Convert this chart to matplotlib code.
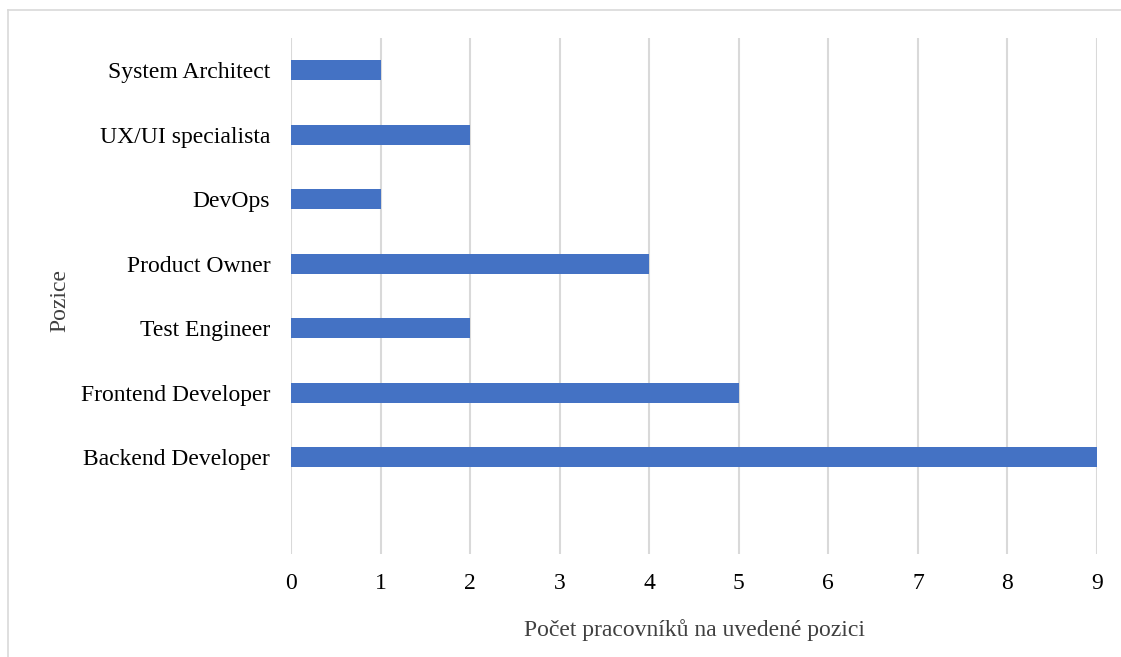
import matplotlib.pyplot as plt
from matplotlib.lines import Line2D

# pozice (odspodu nahoru) a pocty pracovniku
pozice = ["Backend Developer", "Frontend Developer", "Test Engineer",
          "Product Owner", "DevOps", "UX/UI specialista", "System Architect"]
pocty = [9, 5, 2, 4, 1, 2, 1]
x_ticks = list(range(0, 10))

plt.rcParams['font.family'] = ['Liberation Serif', 'DejaVu Serif']

fig = plt.figure(figsize=(11.21, 6.57), dpi=100)
ax = fig.add_axes([291 / 1121, 1 - 554 / 657, (1097 - 291) / 1121, (554 - 38) / 657])

# prvni slot zustava prazdny
y = list(range(1, len(pozice) + 1))
ax.barh(y, pocty, height=0.31, color="#4472C4", zorder=3)

ax.set_ylim(-0.5, len(pozice) + 0.5)
ax.set_xlim(0, 9)
ax.set_yticks(y)
ax.set_yticklabels(pozice, fontsize=17)
ax.set_xticks(x_ticks)
ax.set_xticklabels([str(t) for t in x_ticks], fontsize=17)
ax.tick_params(axis="both", length=0)
ax.tick_params(axis="x", pad=14)
ax.tick_params(axis="y", pad=15)

ax.grid(axis="x", color="#d9d9d9", linewidth=1.5, zorder=0)
for s in ax.spines.values():
    s.set_visible(False)

ax.set_xlabel("Počet pracovníků na uvedené pozici", fontsize=17, color="#404040", labelpad=18)
fig.text(60 / 1121, 1 - 300 / 657, "Pozice", rotation=90, fontsize=17,
         color="#404040", ha="center", va="center")

# okraj grafu nahore a vlevo
fig.add_artist(Line2D([8 / 1121, 8 / 1121], [0, 1 - 10 / 657], color="#d9d9d9",
                      linewidth=1.2, transform=fig.transFigure))
fig.add_artist(Line2D([8 / 1121, 1], [1 - 10 / 657, 1 - 10 / 657], color="#d9d9d9",
                      linewidth=1.2, transform=fig.transFigure))

fig.savefig("out.png", dpi=100)
